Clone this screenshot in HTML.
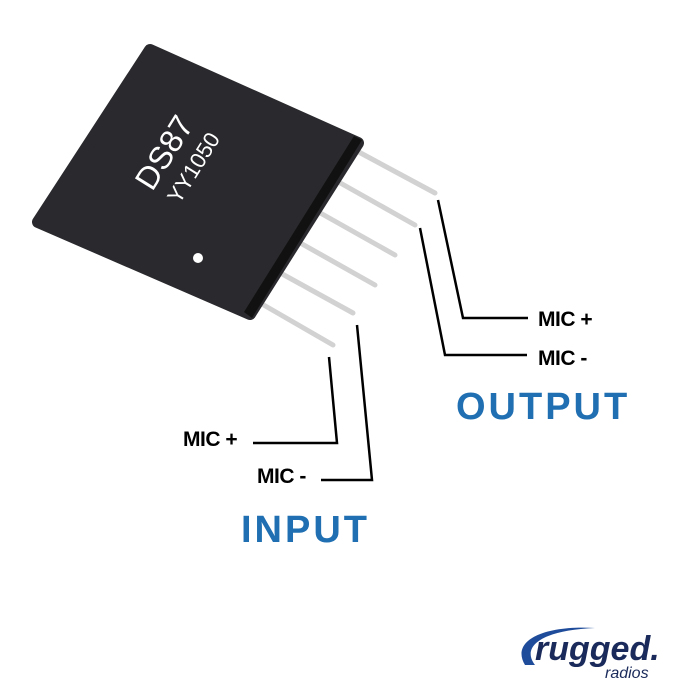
<!DOCTYPE html>
<html><head><style>
body{margin:0;background:#fff;width:700px;height:700px;overflow:hidden;position:relative;font-family:"Liberation Sans",sans-serif}
.l{position:absolute;font-size:21px;font-weight:bold;line-height:21px;letter-spacing:-0.5px}
</style></head><body>
<svg width="700" height="700" style="position:absolute;left:0;top:0">
<g stroke="#d2d2d2" stroke-width="5" stroke-linecap="round">
<line x1="355" y1="150" x2="435" y2="193"/>
<line x1="335" y1="180" x2="415" y2="225"/>
<line x1="315" y1="210" x2="395" y2="255"/>
<line x1="295" y1="240" x2="375" y2="285"/>
<line x1="275" y1="270" x2="353" y2="313"/>
<line x1="255" y1="300" x2="333" y2="345"/>
</g>
<polygon points="150,50 358,143 250,314 38,222" fill="#2a2a2e" stroke="#2a2a2e" stroke-width="12" stroke-linejoin="round"/>
<polygon points="362,140 252,318 244,312 354,136" fill="#111"/>
<text x="165" y="163" font-size="32" fill="#fff" text-anchor="middle" transform="rotate(-58 165 153)" font-family="Liberation Sans">DS87</text>
<text x="194" y="175" font-size="22" fill="#fff" text-anchor="middle" transform="rotate(-58 194 168)" font-family="Liberation Sans">YY1050</text>
<circle cx="198" cy="258" r="5" fill="#fff"/>
<g stroke="#000" stroke-width="2.5" fill="none">
<polyline points="438,200 463,318 528,318"/>
<polyline points="420,228 445,355 527,355"/>
<polyline points="329,357 337,443 253,443"/>
<polyline points="357,325 372,480 321,480"/>
</g>
</svg>
<div class="l" style="left:538px;top:309px">MIC +</div>
<div class="l" style="left:538px;top:348px">MIC -</div>
<div class="l" style="left:183px;top:429px">MIC +</div>
<div class="l" style="left:257px;top:466px">MIC -</div>
<div style="position:absolute;left:456px;top:386px;font-size:38px;font-weight:bold;color:#1f6fb2;letter-spacing:3px">OUTPUT</div>
<div style="position:absolute;left:241px;top:509px;font-size:38px;font-weight:bold;color:#1f6fb2;letter-spacing:3px">INPUT</div>
<svg width="180" height="70" style="position:absolute;left:505px;top:620px">
<path d="M20,45 C5,20 40,5 90,8 C40,10 15,25 30,45 Z" fill="#1f4c9a"/>
<text x="30" y="40" font-size="34" font-weight="bold" font-style="italic" fill="#1a2a5a" font-family="Liberation Sans">rugged.</text>
<text x="100" y="58" font-size="16" font-style="italic" fill="#1a2a5a" font-family="Liberation Sans">radios</text>
</svg>
</body></html>
